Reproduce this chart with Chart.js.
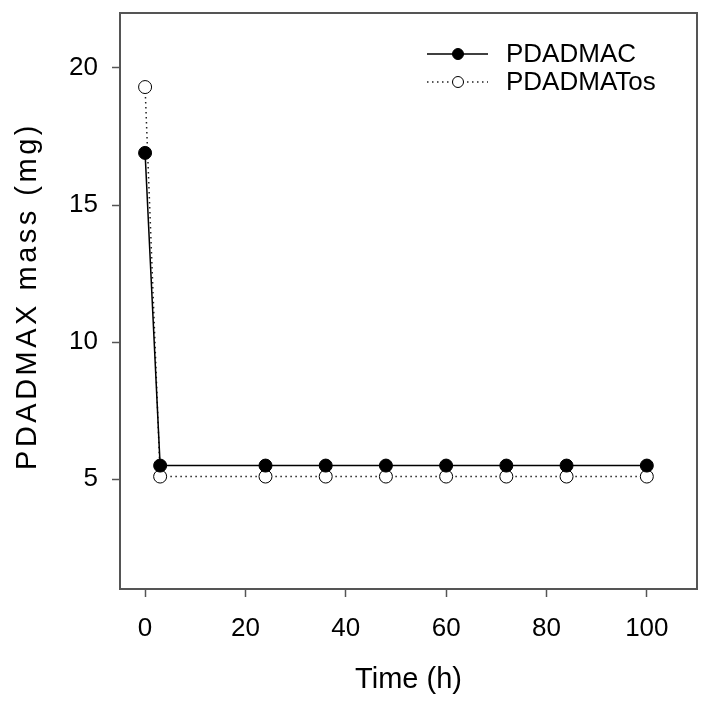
<!DOCTYPE html>
<html lang="en">
<head>
    <script src="https://cdn.jsdelivr.net/npm/chart.js"></script>
    <title>PDADMAX mass</title>
    <style>
        html, body {
            margin: 0;
            padding: 0;
            background: #fff;
        }
        canvas {
            display: block;
        }
    </style>
</head>
<body>
    <canvas id="massChart" width="701" height="708"></canvas>

    <script>
        // values
        const times = [0, 3, 24, 36, 48, 60, 72, 84, 100];
        const massPDADMAC = [16.9, 5.5, 5.5, 5.5, 5.5, 5.5, 5.5, 5.5, 5.5];
        const massPDADMATos = [19.3, 5.1, 5.1, 5.1, 5.1, 5.1, 5.1, 5.1, 5.1];
        const xTicks = [0, 20, 40, 60, 80, 100];
        const yTicks = [5, 10, 15, 20];
        const yTitle = 'PDADMAX mass (mg)';

        const FONT = 'Liberation Sans, Arial, sans-serif';
        const AXIS_GREY = '#555';

        function toPoints(xs, ys) {
            return xs.map((x, i) => ({ x: x, y: ys[i] }));
        }

        // box round the plot area
        const frame = {
            id: 'frame',
            afterDatasetsDraw(chart) {
                const { ctx, chartArea: a } = chart;
                ctx.save();
                ctx.strokeStyle = AXIS_GREY;
                ctx.lineWidth = 2;
                ctx.strokeRect(a.left, a.top, a.right - a.left, a.bottom - a.top);
                ctx.restore();
            }
        };

        // rotated y title, the original has it widely spaced
        const spacedYTitle = {
            id: 'spacedYTitle',
            afterDraw(chart) {
                const ctx = chart.ctx;
                ctx.save();
                ctx.translate(28, 296);
                ctx.rotate(-Math.PI / 2);
                ctx.font = '29px ' + FONT;
                ctx.letterSpacing = '3.5px';
                ctx.fillStyle = '#000';
                ctx.textAlign = 'center';
                ctx.textBaseline = 'middle';
                ctx.fillText(yTitle, 0, 0);
                ctx.restore();
            }
        };

        // legend: line segment with marker, text to the right
        const lineLegend = {
            id: 'lineLegend',
            afterDraw(chart) {
                const { ctx, chartArea: a } = chart;
                const x0 = a.right - 270, x1 = a.right - 209, xm = a.right - 239, xt = a.right - 191;
                ctx.save();
                chart.data.datasets.forEach((ds, i) => {
                    const y = a.top + 41 + i * 28;
                    ctx.strokeStyle = ds.borderColor;
                    ctx.lineWidth = ds.borderWidth;
                    ctx.setLineDash(ds.borderDash || []);
                    ctx.beginPath();
                    ctx.moveTo(x0, y);
                    ctx.lineTo(x1, y);
                    ctx.stroke();
                    ctx.setLineDash([]);
                    ctx.beginPath();
                    ctx.arc(xm, y, 5.5, 0, Math.PI * 2);
                    ctx.fillStyle = ds.pointBackgroundColor;
                    ctx.fill();
                    ctx.lineWidth = 1;
                    ctx.strokeStyle = ds.pointBorderColor;
                    ctx.stroke();
                    ctx.fillStyle = '#000';
                    ctx.font = '26px ' + FONT;
                    ctx.textBaseline = 'middle';
                    ctx.textAlign = 'left';
                    ctx.fillText(ds.label, xt, y + 1);
                });
                ctx.restore();
            }
        };

        const ctx = document.getElementById('massChart').getContext('2d');
        const massChart = new Chart(ctx, {
            type: 'line',
            data: {
                datasets: [{
                    label: 'PDADMAC',
                    data: toPoints(times, massPDADMAC),
                    borderColor: '#000',
                    borderWidth: 1.5,
                    pointRadius: 6.5,
                    pointBorderWidth: 1,
                    pointBackgroundColor: '#000',
                    pointBorderColor: '#000',
                    fill: false,
                    tension: 0
                }, {
                    label: 'PDADMATos',
                    data: toPoints(times, massPDADMATos),
                    borderColor: '#222',
                    borderWidth: 1.5,
                    borderDash: [1.5, 3.5],
                    pointRadius: 6.5,
                    pointBorderWidth: 1,
                    pointBackgroundColor: '#fff',
                    pointBorderColor: '#000',
                    fill: false,
                    tension: 0
                }]
            },
            options: {
                responsive: false,
                animation: false,
                devicePixelRatio: 1,
                layout: {
                    autoPadding: false,
                    padding: { top: 13, right: 4, left: 0, bottom: 0 }
                },
                plugins: {
                    legend: { display: false },
                    tooltip: { enabled: false }
                },
                scales: {
                    x: {
                        type: 'linear',
                        min: -5,
                        max: 110,
                        afterBuildTicks: (scale) => { scale.ticks = xTicks.map(v => ({ value: v })); },
                        afterFit: (scale) => {
                            scale.height = 119;
                            scale.paddingLeft = 0;
                            scale.paddingRight = 0;
                        },
                        grid: {
                            drawOnChartArea: false,
                            drawTicks: true,
                            tickLength: 8,
                            tickColor: AXIS_GREY,
                            tickWidth: 1.5
                        },
                        border: { display: false },
                        ticks: {
                            color: '#000',
                            padding: 16,
                            maxRotation: 0,
                            font: { family: FONT, size: 26 }
                        },
                        title: {
                            display: true,
                            text: 'Time (h)',
                            color: '#000',
                            padding: { top: 0, bottom: 11 },
                            font: { family: FONT, size: 29 }
                        }
                    },
                    y: {
                        type: 'linear',
                        min: 1,
                        max: 22,
                        afterBuildTicks: (scale) => { scale.ticks = yTicks.map(v => ({ value: v })); },
                        afterFit: (scale) => {
                            scale.width = 120;
                            scale.paddingTop = 0;
                            scale.paddingBottom = 0;
                        },
                        grid: {
                            drawOnChartArea: false,
                            drawTicks: true,
                            tickLength: 8,
                            tickColor: AXIS_GREY,
                            tickWidth: 1.5
                        },
                        border: { display: false },
                        ticks: {
                            color: '#000',
                            padding: 14,
                            font: { family: FONT, size: 26 }
                        },
                        title: { display: false }
                    }
                }
            },
            plugins: [frame, spacedYTitle, lineLegend]
        });
    </script>
</body>
</html>
